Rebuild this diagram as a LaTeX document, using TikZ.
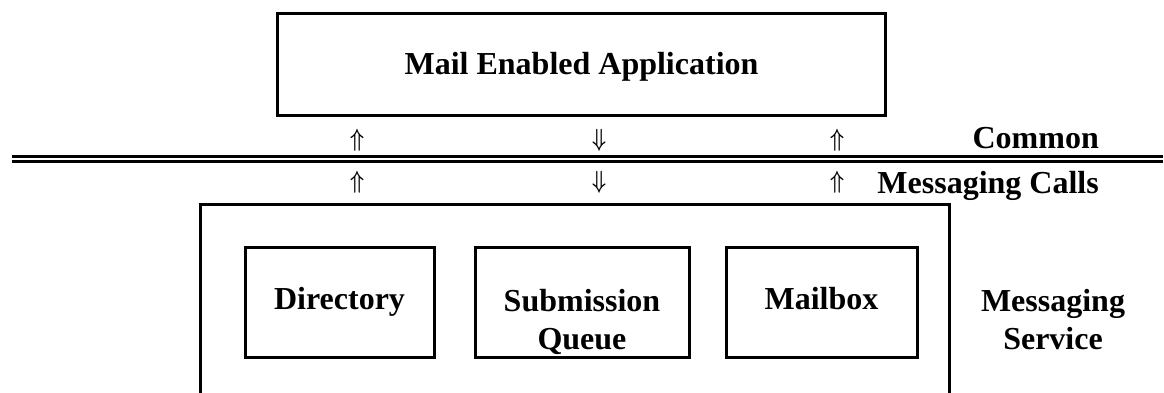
\documentclass[tikz,border=0pt]{standalone}
\usepackage{fontspec}
\setmainfont{Liberation Serif}
\usepackage{bm}
\usepackage{graphicx}
\usepackage{tikz}
\usetikzlibrary{positioning}
\definecolor{DiagramInk}{HTML}{000000}
\newcommand{\boxfont}{\bfseries\fontsize{32}{38}\selectfont}
\newcommand{\callup}{\scalebox{0.8}[1]{$\bm{\Uparrow}$}}
\newcommand{\calldown}{\scalebox{0.8}[1]{$\bm{\Downarrow}$}}
\tikzset{
  appbox/.style={draw=DiagramInk,line width=3pt,minimum width=608pt,minimum height=102pt,font=\boxfont,inner sep=0pt,text height=22pt,text depth=2pt},
  storebox/.style={draw=DiagramInk,line width=3pt,minimum height=110pt,font=\boxfont,inner sep=0pt,text height=22pt,text depth=7pt},
  frame/.style={draw=DiagramInk,line width=3pt},
  rule/.style={draw=DiagramInk,line width=2.2pt},
  boxtext/.style={align=center,font=\boxfont,inner sep=0pt},
  callglyph/.style={inner sep=0pt,font=\fontsize{25}{25}\selectfont}
}

\begin{document}
\begin{tikzpicture}[x=1pt,y=-1pt]
  \useasboundingbox (0,0) rectangle (1164,393);
  % application on top
  \node[appbox] (app) at (581.5,64.5) {Mail Enabled Application};
  % common messaging calls interface
  \draw[rule] (12,156.5) -- (1163,156.5);
  \draw[rule] (12,161.5) -- (1163,161.5);
  \node[callglyph] (upa) at (357,140) {\callup};
  \node[callglyph] (downa) at (599,140) {\calldown};
  \node[callglyph] (upb) at (837,140) {\callup};
  \node[callglyph] (upc) at (357,182) {\callup};
  \node[callglyph] (downb) at (599,182) {\calldown};
  \node[callglyph] (upd) at (837,182) {\callup};
  \node[boxtext,anchor=base east] (common) at (1099,149) {Common};
  \node[boxtext,anchor=base east] (calls) at (1099,193) {Messaging Calls};
  % messaging service
  \draw[frame] (200,393) |- (949,204) -- (949,393);
  \node[storebox,minimum width=189pt] (directory) at (339.5,302) {Directory};
  \node[storebox,minimum width=214pt,right=38pt of directory] (submission) {};
  \node[storebox,minimum width=191pt,right=34pt of submission] (mailbox) {Mailbox};
  \node[boxtext,anchor=north] (subtext) at (submission.center |- 0,289) {Submission\\Queue};
  \node[boxtext,anchor=north] (service) at (1053,289) {Messaging\\Service};
\end{tikzpicture}
\end{document}
